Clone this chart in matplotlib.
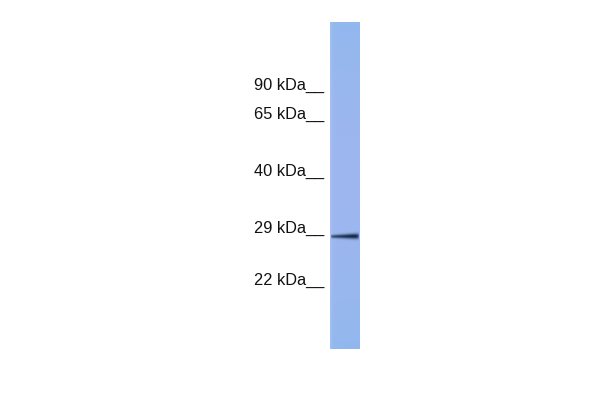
import matplotlib.pyplot as plt
import numpy as np

# marker ladder (kDa) and where each one ran on the lane (pixel rows)
marker_labels = ["90 kDa", "65 kDa", "40 kDa", "29 kDa", "22 kDa"]
marker_rows = [85, 114, 171, 228, 280]

# the single detected band
band_row = 236
band_strength = 0.95

# lane geometry in pixels
lane_left, lane_right = 330, 360
lane_top, lane_bottom = 22, 349

fig = plt.figure(figsize=(6, 4), dpi=100)
ax = fig.add_axes([0, 0, 1, 1])
ax.set_xlim(0, 600)
ax.set_ylim(400, 0)
ax.axis("off")

# build lane image: blue background, slightly lavender in the middle
h = lane_bottom - lane_top
w = lane_right - lane_left
rows = np.linspace(0, 1, h)[:, None]
cols = np.linspace(0, 1, w)[None, :]
top_col = np.array([146, 184, 238]) / 255
mid_col = np.array([160, 182, 240]) / 255
mix = np.sin(rows * np.pi)[..., None] * 0.8
img = top_col * (1 - mix) + mid_col * mix
img = np.broadcast_to(img, (h, w, 3)).copy()
# lighter strip on left edge
edge = np.exp(-cols / 0.06)[..., None] * 0.12
img = img + (1 - img) * edge

# band: dark navy, heavier toward the right
y = np.arange(h)[:, None] + lane_top
x = np.linspace(0, 1, w)[None, :]
thick = 1.6 + 1.2 * x
prof = np.exp(-((y - band_row + 0.3 * x) / thick) ** 2)
xprof = np.clip(0.6 + 0.4 * x, 0, 1) * (1 - np.exp(-x / 0.03)) * (1 - np.exp(-(1 - x) / 0.05))
dark = np.clip(prof * xprof * band_strength * 1.2, 0, 0.95)[..., None]
band_col = np.array([18, 40, 70]) / 255
img = img * (1 - dark) + band_col * dark

ax.imshow(np.clip(img, 0, 1), extent=[lane_left, lane_right, lane_bottom, lane_top],
          aspect="auto", interpolation="bilinear")

for label, row in zip(marker_labels, marker_rows):
    ax.text(324, row, label + "__", ha="right", va="center",
            fontsize=11.8, family="Liberation Sans", color="#111111")

fig.savefig("out.png", dpi=100)
